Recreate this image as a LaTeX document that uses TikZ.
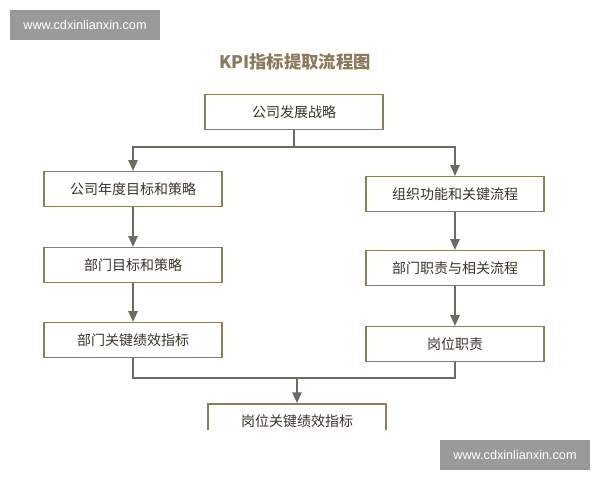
\documentclass[tikz,border=0pt]{standalone}
\usepackage{fontspec}
\newfontfamily\cjk{Noto Sans CJK SC}
\usetikzlibrary{arrows.meta}
\begin{document}
\begin{tikzpicture}[x=0.75pt,y=-0.75pt,
  box/.style={draw=boxc,line width=1.2pt,fill=white,minimum width=133.5pt,minimum height=26pt,font=\cjk\fontsize{10.5}{12}\selectfont,text=textc,inner sep=0pt},
  ln/.style={draw=linec,line width=1pt},
  arr/.style={ln,-{Triangle[length=8pt,width=7pt]}},
  wm/.style={fill=wmc,text=white,font=\fontspec{Liberation Sans}\fontsize{9.5}{11}\selectfont,inner sep=0pt}]
\definecolor{boxc}{HTML}{8C7E5A}
\definecolor{linec}{HTML}{6E6A60}
\definecolor{textc}{HTML}{3A3428}
\definecolor{wmc}{HTML}{9A9A9A}
\definecolor{titc}{HTML}{8A7A5A}
\useasboundingbox (0,0) rectangle (600,480);
\fill[white] (0,0) rectangle (600,480);
\node[font=\cjk\bfseries\fontsize{13}{15}\selectfont,text=titc] (title) at (295,62) {KPI指标提取流程图};
\node[box] (top) at (294,112) {公司发展战略};
\node[box] (l1) at (133,189) {公司年度目标和策略};
\node[box] (l2) at (133,265) {部门目标和策略};
\node[box] (l3) at (133,340) {部门关键绩效指标};
\node[box] (r1) at (455,194) {组织功能和关键流程};
\node[box] (r2) at (455,268) {部门职责与相关流程};
\node[box] (r3) at (455,344) {岗位职责};
\node[box,anchor=north] (bot) at (297,403) {岗位关键绩效指标};
\coordinate (s) at (294,147);
\coordinate (m) at (297,378);
\draw[ln] (top.south) -- (s);
\draw[arr] (s) -| (l1.north);
\draw[arr] (s) -| (r1.north);
\draw[arr] (l1) -- (l2);
\draw[arr] (l2) -- (l3);
\draw[arr] (r1) -- (r2);
\draw[arr] (r2) -- (r3);
\draw[ln] (l3.south) |- (m);
\draw[ln] (r3.south) |- (m);
\draw[arr] (m) -- (bot.north);
\fill[white] (0,430) rectangle (600,480);
\node[wm,minimum width=112.5pt,minimum height=22.5pt] (w1) at (85,25) {www.cdxinlianxin.com};
\node[wm,minimum width=112.5pt,minimum height=22.5pt] (w2) at (515,455) {www.cdxinlianxin.com};
\end{tikzpicture}
\end{document}
